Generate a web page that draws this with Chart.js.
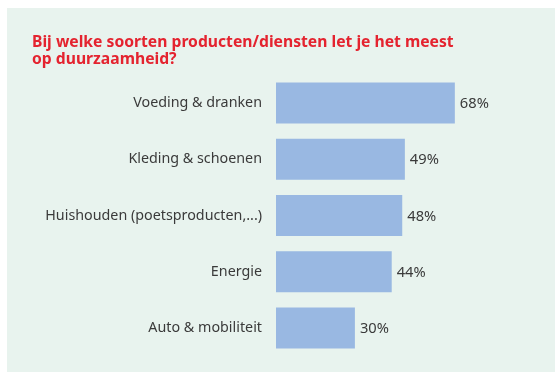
<!DOCTYPE html>
<html>
<head>
<meta charset="utf-8">
<script src="https://cdn.jsdelivr.net/npm/chart.js@4"></script>
<style>
  html, body { margin: 0; padding: 0; background: #fff; }
  #panel { position: absolute; left: 7px; top: 8px; width: 548px; height: 364px; background: #e8f3ee; }
  #wrap { position: absolute; left: 0; top: 0; width: 555px; height: 372px; }
</style>
</head>
<body>
<div id="panel"></div>
<div id="wrap"><canvas id="myChart" width="555" height="372"></canvas></div>
<script>
const TITLE = ["Bij welke soorten producten/diensten let je het meest", "op duurzaamheid?"];
const categories = [
  "Voeding & dranken",
  "Kleding & schoenen",
  "Huishouden (poetsproducten,...)",
  "Energie",
  "Auto & mobiliteit",
];
const values = [68, 49, 48, 44, 30];

const FONT = "'Noto Sans', sans-serif";
const TEXT_COLOR = "#3a3a3a";

// writes "68%" etc. next to each bar
const valueLabels = {
  id: "valueLabels",
  afterDatasetsDraw(chart) {
    const { ctx } = chart;
    const meta = chart.getDatasetMeta(0);
    ctx.save();
    ctx.font = "14.7px " + FONT;
    ctx.fillStyle = TEXT_COLOR;
    ctx.textAlign = "left";
    ctx.textBaseline = "middle";
    meta.data.forEach((bar, i) => {
      ctx.fillText(values[i] + "%", bar.x + 5, bar.y + 1);
    });
    ctx.restore();
  },
};

const ctx = document.getElementById("myChart").getContext("2d");
new Chart(ctx, {
  type: "bar",
  data: {
    labels: categories,
    datasets: [
      {
        data: values,
        backgroundColor: "#99b8e2",
        borderWidth: 0,
        barPercentage: 0.73,
        categoryPercentage: 1,
      },
    ],
  },
  options: {
    indexAxis: "y",
    responsive: false,
    animation: false,
    layout: { padding: { top: 0, left: 32, right: 16, bottom: 16 } },
    plugins: {
      legend: { display: false },
      tooltip: { enabled: false },
      title: {
        display: true,
        text: TITLE,
        align: "start",
        color: "#e4232f",
        font: { family: FONT, size: 15.7, weight: "bold", lineHeight: "17px" },
        padding: { top: 34, bottom: 7 },
      },
    },
    scales: {
      x: { display: false, min: 0, max: 100 },
      y: {
        grid: { display: false, drawTicks: false },
        border: { display: false },
        ticks: {
          color: TEXT_COLOR,
          font: { family: FONT, size: 14.3 },
          padding: 14,
        },
        afterFit(scale) {
          scale.width = 244;
          // tick padding would otherwise shrink the plot vertically
          scale.paddingTop = 0;
          scale.paddingBottom = 0;
        },
      },
    },
  },
  plugins: [valueLabels],
});
</script>
</body>
</html>
